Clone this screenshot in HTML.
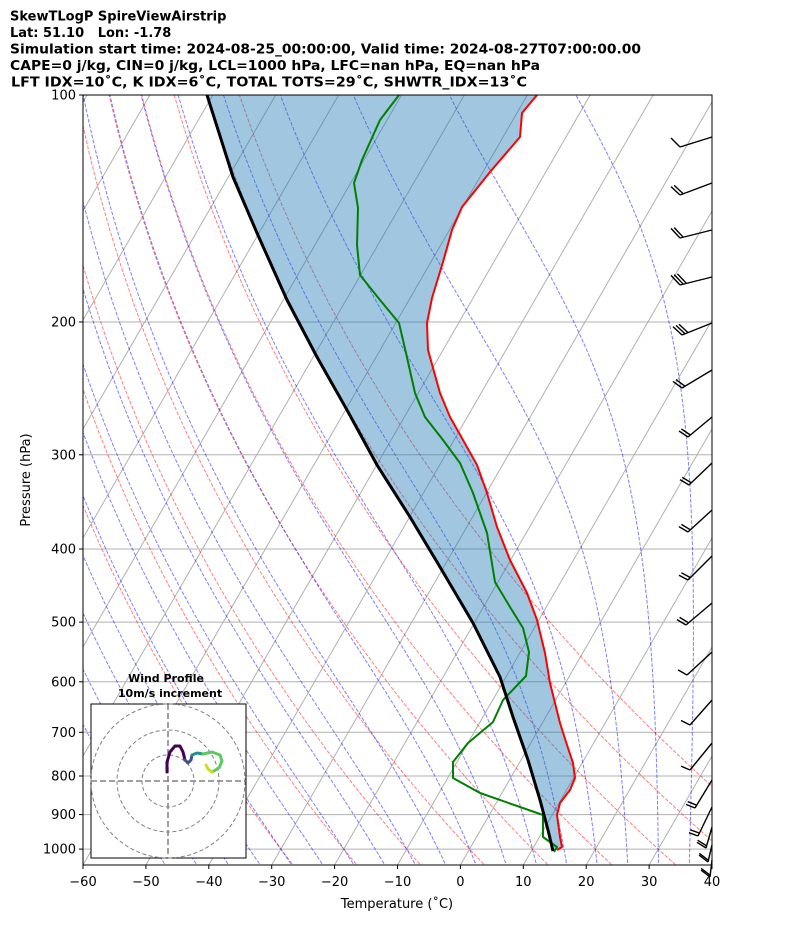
<!DOCTYPE html>
<html><head><meta charset="utf-8"><style>
html,body{margin:0;padding:0;background:#fff;}
svg{display:block;font-family:"DejaVu Sans","Liberation Sans",sans-serif;}
</style></head><body>
<svg id="s" width="794" height="937" viewBox="0 0 794 937" xmlns="http://www.w3.org/2000/svg">
<defs><clipPath id="cp"><rect x="83" y="95" width="629" height="770"/></clipPath></defs>
<rect width="794" height="937" fill="#fff"/>
<g font-weight="bold" font-size="13" fill="#000">
<text x="10" y="20.5">SkewTLogP SpireViewAirstrip</text>
<text x="10" y="37">Lat: 51.10&#160;&#160;&#160;Lon: -1.78</text>
<text x="10" y="53.5" textLength="631" lengthAdjust="spacingAndGlyphs">Simulation start time: 2024-08-25_00:00:00, Valid time: 2024-08-27T07:00:00.00</text>
<text x="10" y="70" textLength="530" lengthAdjust="spacingAndGlyphs">CAPE=0 j/kg, CIN=0 j/kg, LCL=1000 hPa, LFC=nan hPa, EQ=nan hPa</text>
<text x="11" y="86.5" textLength="516" lengthAdjust="spacingAndGlyphs">LFT IDX=10˚C, K IDX=6˚C, TOTAL TOTS=29˚C, SHWTR_IDX=13˚C</text>
</g>
<g id="grid" clip-path="url(#cp)"></g>
<g id="ticks"></g>
<rect x="83" y="95" width="629" height="770" fill="none" stroke="#000" stroke-width="1"/>
<text x="397" y="908" font-size="13" text-anchor="middle">Temperature (˚C)</text>
<text transform="translate(30,480) rotate(-90)" font-size="13" text-anchor="middle">Pressure (hPa)</text>
<g id="barbs" stroke="#000" stroke-width="1.4" fill="none"></g>
<g id="inset"></g>
</svg>
<script>
var NS="http://www.w3.org/2000/svg";
function el(p,t,a){var e=document.createElementNS(NS,t);for(var k in a)e.setAttribute(k,a[k]);p.appendChild(e);return e;}
function Y(p){return 95+327.5*Math.log(p/100);}
function X(T,p){var y=Y(p);return 83+(T+60)*6.29+(865-y)*0.577;}
var g=document.getElementById('grid');
for(var p=100;p<=1000;p+=100){el(g,'line',{x1:83,x2:712,y1:Y(p),y2:Y(p),stroke:'#b0b0b0','stroke-width':1});}
for(var T=-170;T<=40;T+=10){var xb=83+(T+60)*6.29;el(g,'line',{x1:xb,y1:865,x2:xb+444.3,y2:95,stroke:'#b0b0b0','stroke-width':1});}
function pl(pts,attrs){var d=pts.map(function(q,i){return (i?'L':'M')+q[0].toFixed(1)+' '+q[1].toFixed(1);}).join('');attrs.d=d;return el(g,'path',attrs);}
for(var t0=-30;t0<=50;t0+=10){var pts=[];for(var p=1060;p>=95;p-=10){var T=(t0+273.15)*Math.pow(p/1000,0.2857)-273.15;pts.push([X(T,p),Y(p)]);}
pl(pts,{fill:'none',stroke:'rgba(255,0,0,0.5)','stroke-width':1,'stroke-dasharray':'3.7,1.6'});}
function dTdp(p,T){var es=6.112*Math.exp(17.67*(T-273.15)/(T-29.65));var rs=0.622*es/(p-es);var Rd=287.04,Cp=1005.7,Lv=2.501e6;return (Rd*T+Lv*rs)/(Cp+Lv*Lv*rs*0.622/(Rd*T*T))/p;}
function moist(t0){var up=[],T=t0+273.15,p=1000,h=-5;up.push([p,T]);while(p>95){var k1=dTdp(p,T),k2=dTdp(p+h/2,T+h/2*k1),k3=dTdp(p+h/2,T+h/2*k2),k4=dTdp(p+h,T+h*k3);T+=h/6*(k1+2*k2+2*k3+k4);p+=h;up.push([p,T]);}
var dn=[];T=t0+273.15;p=1000;h=5;while(p<1060){var k1=dTdp(p,T),k2=dTdp(p+h/2,T+h/2*k1),k3=dTdp(p+h/2,T+h/2*k2),k4=dTdp(p+h,T+h*k3);T+=h/6*(k1+2*k2+2*k3+k4);p+=h;dn.push([p,T]);}
return dn.reverse().concat(up);}
for(var t0=-50;t0<=40;t0+=5){var m=moist(t0);pl(m.map(function(q){return [X(q[1]-273.15,q[0]),Y(q[0])];}),{fill:'none',stroke:'rgba(0,0,255,0.5)','stroke-width':1,'stroke-dasharray':'3.7,1.6'});}
var black=[[207,95],[233,177],[257,233],[287,300],[317,357],[347,410],[377,465],[410,517],[440,567],[473,623],[500,677],[513,717],[528,760],[540,800],[548,830],[553,851]];
var red=[[537,95],[522,113],[520,137],[490,172],[462,207],[452,230],[443,262],[432,298],[427,323],[428,350],[440,393],[450,417],[463,440],[477,465],[487,493],[497,527],[510,560],[527,593],[537,620],[545,653],[550,683],[560,723],[567,745],[573,763],[575,778],[570,790],[560,803],[557,815],[560,837],[562,847],[557,850]];
var green=[[399,95],[380,120],[362,160],[354,183],[358,208],[357,245],[360,275],[380,300],[399,323],[406,353],[415,393],[425,417],[443,440],[460,463],[473,493],[487,533],[495,582],[510,607],[523,628],[529,652],[526,676],[503,700],[493,722],[468,743],[453,762],[453,778],[480,793],[543,815],[543,837],[557,847],[554,852]];
var poly=black.concat(red.slice().reverse());
pl(poly,{fill:'#1f77b4','fill-opacity':0.42,stroke:'none'});
pl(red,{fill:'none',stroke:'#f00','stroke-width':2,'stroke-linejoin':'round'});
pl(green,{fill:'none',stroke:'#008000','stroke-width':2,'stroke-linejoin':'round'});
pl(black,{fill:'none',stroke:'#000','stroke-width':3,'stroke-linejoin':'round'});
var tk=document.getElementById('ticks');
for(var p=100;p<=1000;p+=100){var y=Y(p);el(tk,'line',{x1:79,x2:83,y1:y,y2:y,stroke:'#000'});var t=el(tk,'text',{x:76,y:y+4.5,'font-size':13,'text-anchor':'end'});t.textContent=p;}
for(var T=-60;T<=40;T+=10){var x=83+(T+60)*6.29;el(tk,'line',{x1:x,x2:x,y1:865,y2:869,stroke:'#000'});var t=el(tk,'text',{x:x,y:886,'font-size':13,'text-anchor':'middle'});t.textContent=(T<0?'\u2212'+(-T):T);}
var b=document.getElementById('barbs');
var B=[[137,680,147,1],[183,680,195,2],[230,680,238,2],[277,680,285,3],[323,682,335,3],[370,682,388,2],[417,688,437,2],[463,689,485,2],[510,688,532,2],[556,688,580,2],[603,686,625,2],[652,687,675,1],[700,690,725,1],[743,690,770,1],[780,695,808,2],[807,698,836,2],[827,706,848,2],[845,708,862,2],[860,710,877,2]];
B.forEach(function(q){var ye=q[0],x0=q[1],y0=q[2];el(b,'line',{x1:712,y1:ye,x2:x0,y2:y0});
for(var i=0;i<q[3];i++){var sx=x0+(712-x0)*0.1*i,sy=y0+(ye-y0)*0.1*i;el(b,'line',{x1:sx,y1:sy,x2:sx-9,y2:sy-12+(y0-ye)*0.3});}});
var ins=document.getElementById('inset');
el(ins,'rect',{x:91,y:704,width:155,height:154,fill:'#fff',stroke:'#000','stroke-width':1});
[26,51,77].forEach(function(r){el(ins,'circle',{cx:168,cy:781,r:r,fill:'none',stroke:'#808080','stroke-width':1,'stroke-dasharray':'4,2.5'});});
el(ins,'line',{x1:168,x2:168,y1:704,y2:858,stroke:'#808080','stroke-width':1.5,'stroke-dasharray':'6,3'});
el(ins,'line',{x1:91,x2:246,y1:781,y2:781,stroke:'#808080','stroke-width':1.5,'stroke-dasharray':'6,3'});
var segs=[['#440154','M167 772 L167 762 L170 752 L175 746 L180 746 L183 752 L185 760'],['#3b528b','M185 760 L188 763 L191 760 L192 755'],['#21918c','M192 755 L197 753 L203 754'],['#5ec962','M203 754 L212 752 L220 755 L222 761 L219 768 L212 772'],['#c8e020','M212 772 L208 769 L206 765']];
segs.forEach(function(s){el(ins,'path',{d:s[1],fill:'none',stroke:s[0],'stroke-width':3,'stroke-linecap':'round','stroke-linejoin':'round'});});
var t1=el(ins,'text',{x:166,y:682,'font-size':11,'font-weight':'bold','text-anchor':'middle'});t1.textContent='Wind Profile';
var t2=el(ins,'text',{x:170,y:697,'font-size':11,'font-weight':'bold','text-anchor':'middle'});t2.textContent='10m/s increment';
</script>
</body></html>
